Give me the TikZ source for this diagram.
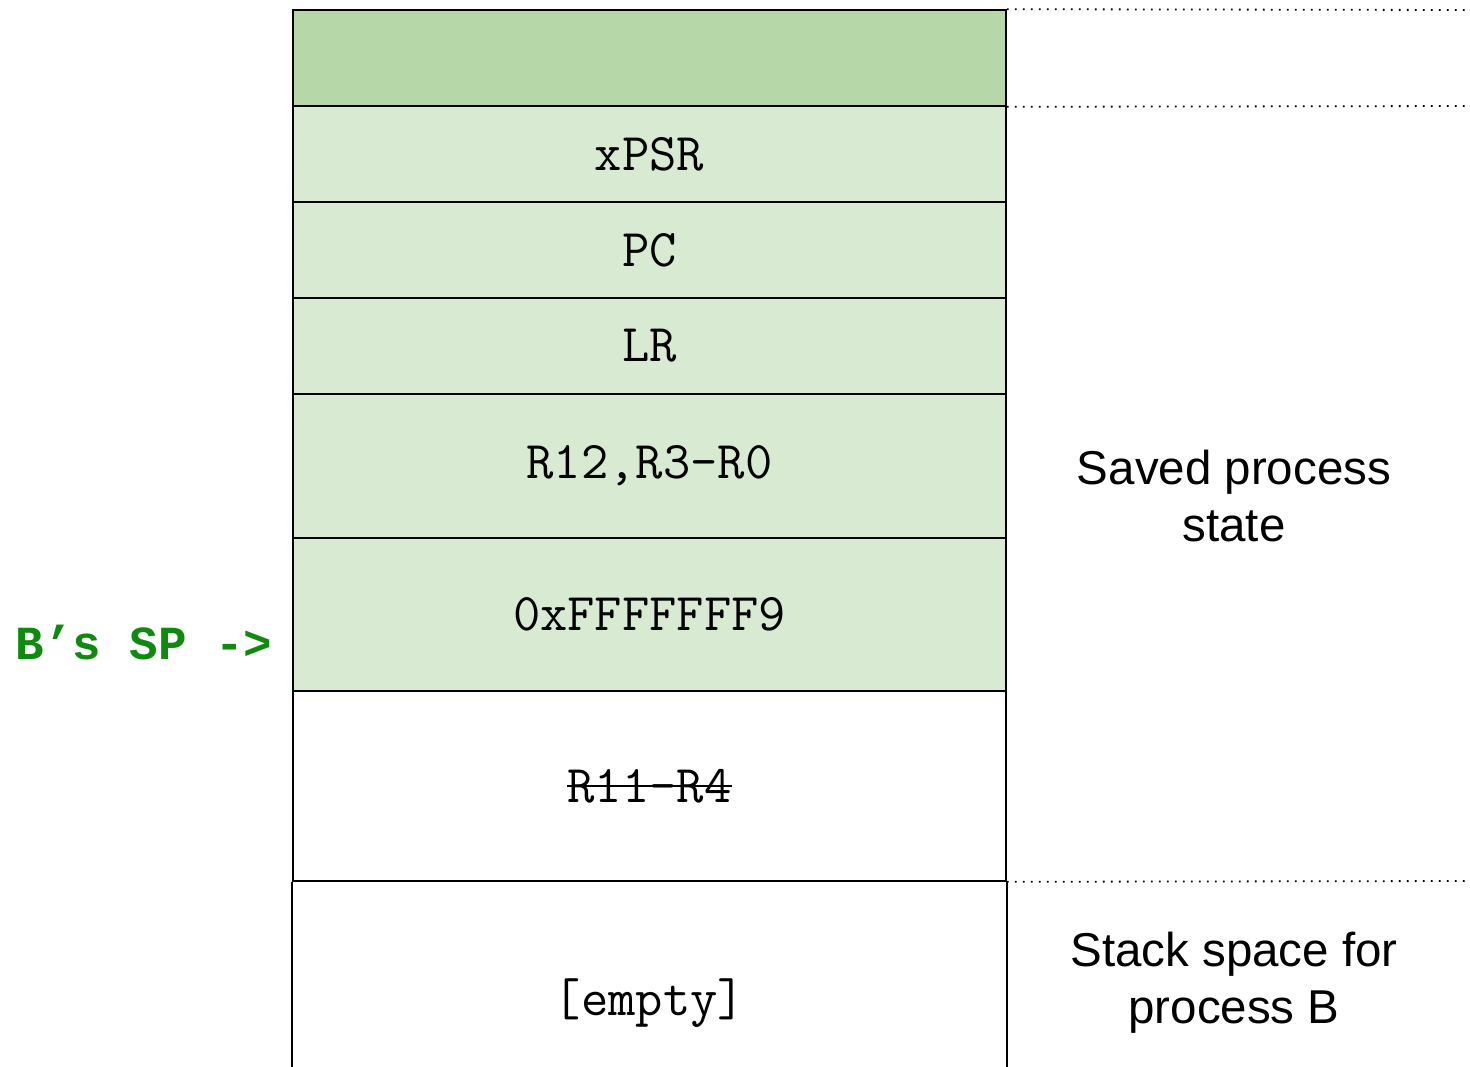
\documentclass[tikz,border=0pt]{standalone}
\usepackage{fontspec}
\setmainfont{Liberation Sans}
\newfontfamily\labelmono{Liberation Mono}
\definecolor{frameGreen}{HTML}{B6D7A8}
\definecolor{savedGreen}{HTML}{D9EAD3}
\definecolor{spGreen}{HTML}{0F8A0F}
\begin{document}
\begin{tikzpicture}[x=1pt,y=-1pt,
  regfont/.style={font=\ttfamily\fontsize{53}{60}\selectfont},
  cell/.style={draw=black, line width=1.6pt, minimum width=713pt, inner sep=0pt, regfont},
  dotline/.style={line width=1.8pt, dash pattern=on 1.8pt off 6.2pt},
  note/.style={align=center, font=\fontsize{47.5}{57}\selectfont}]
\useasboundingbox (0,0) rectangle (1470,1066);
\clip (0,0) rectangle (1470,1066);
% stack frame, top to bottom
\node[cell, fill=frameGreen, minimum height=96pt] (top) at (649.5,58) {};
\node[cell, fill=savedGreen, minimum height=96pt] (xpsr) at (649.5,154) {xPSR};
\node[cell, fill=savedGreen, minimum height=96pt] (pc) at (649.5,250) {PC};
\node[cell, fill=savedGreen, minimum height=96pt] (lr) at (649.5,346) {LR};
\node[cell, fill=savedGreen, minimum height=144pt] (r12) at (649.5,466) {R12,R3-R0};
\node[cell, fill=savedGreen, minimum height=153pt] (exc) at (649.5,614.5) {0xFFFFFFF9};
\node[cell, minimum height=190pt] (r11) at (649.5,786) {};
\node[regfont, inner sep=0pt] (r11txt) at (649.5,786) {R11-R4};
\draw[line width=1.8pt] (r11txt.west) -- (r11txt.east);
% open-ended free stack space below
\draw[line width=1.6pt] (r11.south west) -- ++(0,200) (r11.south east) -- ++(0,200);
\node[regfont] (emptytxt) at (649.5,1003) {[empty]};
% dotted guide lines
\coordinate (d1) at (1470,10);
\coordinate (d2) at (1470,106);
\coordinate (d3) at (1470,881);
\draw[dotline] (top.north east) -- (d1);
\draw[dotline] (top.south east) -- (d2);
\draw[dotline] (r11.south east) -- (d3);
% annotations
\node[note] (saved) at (1234,496) {Saved process\\state};
\node[note] (space) at (1234,983) {Stack space for\\process B};
\node[font=\labelmono\bfseries\fontsize{47.5}{50}\selectfont, text=spGreen, inner sep=0pt] (sp) at (144,643) {B’s SP ->};
\end{tikzpicture}
\end{document}
